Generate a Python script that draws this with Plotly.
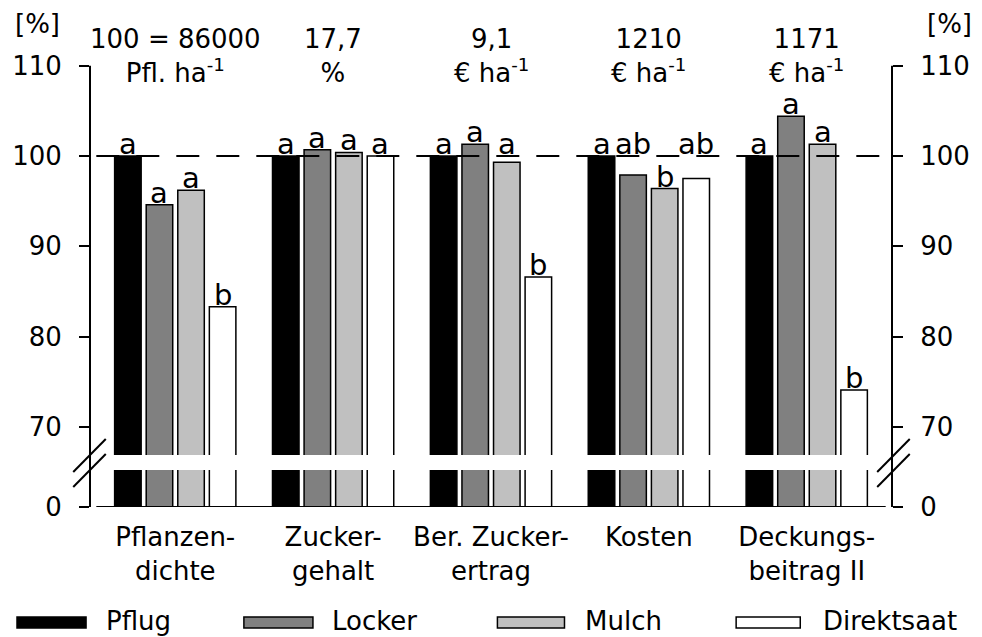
import plotly.graph_objects as go

# ---- data ---------------------------------------------------------------
categories = ["Pflanzen-<br>dichte", "Zucker-<br>gehalt", "Ber. Zucker-<br>ertrag",
              "Kosten", "Deckungs-<br>beitrag II"]
reference_line1 = ["100 = 86000", "17,7", "9,1", "1210", "1171"]
reference_line2 = ["Pfl. ha<sup>-1</sup>", "%", "€ ha<sup>-1</sup>",
                   "€ ha<sup>-1</sup>", "€ ha<sup>-1</sup>"]

series_names = ["Pflug", "Locker", "Mulch", "Direktsaat"]
pflug = [100.0, 100.0, 100.0, 100.0, 100.0]
locker = [94.6, 100.7, 101.3, 97.9, 104.4]
mulch = [96.2, 100.4, 99.3, 96.4, 101.3]
direktsaat = [83.3, 100.0, 86.6, 97.5, 74.1]

letters_pflug = ["a", "a", "a", "a", "a"]
letters_locker = ["a", "a", "a", "ab", "a"]
letters_mulch = ["a", "a", "a", "b", "a"]
letters_direktsaat = ["b", "a", "b", "ab", "b"]

upper_ticks = [70, 80, 90, 100, 110]
lower_ticks = [0]
reference_value = 100

# ---- styling / layout ---------------------------------------------------
colors = ["#000000", "#808080", "#c0c0c0", "#ffffff"]
FONT = "DejaVu Sans"
FS = 26
W, H = 982, 637
ML, MR, MT, MB = 87, 82, 65, 130
PW, PH = W - ML - MR, H - MT - MB
SCALE = 9.033                      # pixels per percentage point
BREAK_TOP_PX, BREAK_BOTTOM_PX = 455, 470
BASE_PX = H - MB

upper_domain = [(BASE_PX - BREAK_TOP_PX) / PH, 1.0]
lower_domain = [0.0, (BASE_PX - BREAK_BOTTOM_PX) / PH]
upper_top = 100 + (156 - MT) / SCALE
upper_range = [upper_top - (BREAK_TOP_PX - MT) / SCALE, upper_top]
lower_range = [0, (BASE_PX - BREAK_BOTTOM_PX) / SCALE]

BARGAP, GROUPGAP = 0.2, 0.16


def px_x(px):
    return (px - ML) / PW


def px_y(py):
    return (BASE_PX - py) / PH


x_idx = list(range(len(categories)))
all_series = [pflug, locker, mulch, direktsaat]
all_letters = [letters_pflug, letters_locker, letters_mulch, letters_direktsaat]

fig = go.Figure()
for name, vals, col in zip(series_names, all_series, colors):
    for ax in ("y", "y2"):
        fig.add_trace(go.Bar(
            x=x_idx, y=vals, name=name, xaxis="x", yaxis=ax,
            marker=dict(color=col, line=dict(color="black", width=1.5)),
            showlegend=False, hoverinfo="name+y"))

# right-hand axes
fig.add_trace(go.Scatter(x=[], y=[], xaxis="x", yaxis="y3", showlegend=False))
fig.add_trace(go.Scatter(x=[], y=[], xaxis="x", yaxis="y4", showlegend=False))

tickfont = dict(family=FONT, size=FS, color="black")
yax_common = dict(showgrid=False, zeroline=False, showline=False, ticks="outside",
                  ticklen=10, tickwidth=2, tickcolor="black", tickfont=tickfont,
                  ticklabelstandoff=12, fixedrange=True)

fig.update_layout(
    width=W, height=H,
    margin=dict(l=ML, r=MR, t=MT, b=MB, pad=0),
    paper_bgcolor="white", plot_bgcolor="white",
    font=dict(family=FONT, size=FS, color="black"),
    barmode="group", bargap=BARGAP, bargroupgap=GROUPGAP,
    showlegend=False,
    xaxis=dict(range=[-0.54, len(categories) - 0.46], tickvals=x_idx,
               ticktext=categories, showgrid=False, zeroline=False,
               showline=False, ticks="", tickfont=tickfont,
               ticklabelstandoff=12, anchor="y", fixedrange=True),
    yaxis=dict(domain=lower_domain, range=lower_range, tickvals=lower_ticks,
               anchor="x", **yax_common),
    yaxis2=dict(domain=upper_domain, range=upper_range, tickvals=upper_ticks,
                anchor="x", **yax_common),
    yaxis3=dict(overlaying="y2", side="right", range=upper_range,
                tickvals=upper_ticks, anchor="x", **yax_common),
    yaxis4=dict(overlaying="y", side="right", range=lower_range,
                tickvals=lower_ticks, anchor="x", **yax_common),
)

shapes = []
line_style = dict(color="black", width=2)
# reference line at 100 %
shapes.append(dict(type="line", xref="x", yref="y2", x0=-0.5, x1=len(categories) - 0.5,
                   y0=reference_value, y1=reference_value, layer="above",
                   line=dict(color="black", width=2, dash="23px,17px")))
# baseline
shapes.append(dict(type="line", xref="x", yref="y", x0=-0.5, x1=len(categories) - 0.5,
                   y0=0, y1=0, layer="above", line=line_style))
# vertical axis lines, continuous through the break
top_px = MT + (upper_range[1] - max(upper_ticks)) * SCALE
for xp in (0, 1):
    shapes.append(dict(type="line", xref="paper", yref="paper", x0=xp, x1=xp,
                       y0=0, y1=px_y(top_px), line=line_style))
# break marks
for x0p, x1p in ((70, 103), (885, 918)):
    for y0p, y1p in ((472, 439), (487, 454)):
        shapes.append(dict(type="line", xref="paper", yref="paper",
                           x0=px_x(x0p), x1=px_x(x1p), y0=px_y(y0p), y1=px_y(y1p),
                           line=line_style))

annotations = []
# significance letters above the bars
slot = (1 - BARGAP) / len(all_series)
for k, (vals, letters) in enumerate(zip(all_series, all_letters)):
    for i, (v, let) in enumerate(zip(vals, letters)):
        ly = reference_value if 97 <= v < reference_value else v
        annotations.append(dict(x=i + (k - (len(all_series) - 1) / 2) * slot, y=ly,
                                xref="x", yref="y2", text=let, showarrow=False,
                                yanchor="bottom", yshift=-7,
                                font=dict(family=FONT, size=29, color="black")))
# reference values (100 %) per category
for i, (l1, l2) in enumerate(zip(reference_line1, reference_line2)):
    annotations.append(dict(x=i, y=px_y(22), xref="x", yref="paper",
                            text=f"{l1}<br>{l2}", showarrow=False, yanchor="top",
                            font=dict(family=FONT, size=FS, color="black")))
# unit labels
for xp in (34, 958):
    annotations.append(dict(x=px_x(xp), y=px_y(24), xref="paper", yref="paper",
                            text="[%]", showarrow=False, xanchor="center",
                            yanchor="middle",
                            font=dict(family=FONT, size=FS, color="black")))

# legend keys
legend_boxes = [(13, 83, 101), (243, 313, 330), (500, 568, 587), (742, 807, 828)]
for (bx0, bx1, tx), name, col in zip(legend_boxes, series_names, colors):
    shapes.append(dict(type="rect", xref="paper", yref="paper",
                       x0=px_x(bx0), x1=px_x(bx1), y0=px_y(628), y1=px_y(617),
                       fillcolor=col, line=dict(color="black", width=1.5)))
    annotations.append(dict(x=px_x(tx), y=px_y(621), xref="paper", yref="paper",
                            text=name, showarrow=False, xanchor="left",
                            yanchor="middle",
                            font=dict(family=FONT, size=FS, color="black")))

fig.update_layout(shapes=shapes, annotations=annotations)
fig.write_html("out.html")
